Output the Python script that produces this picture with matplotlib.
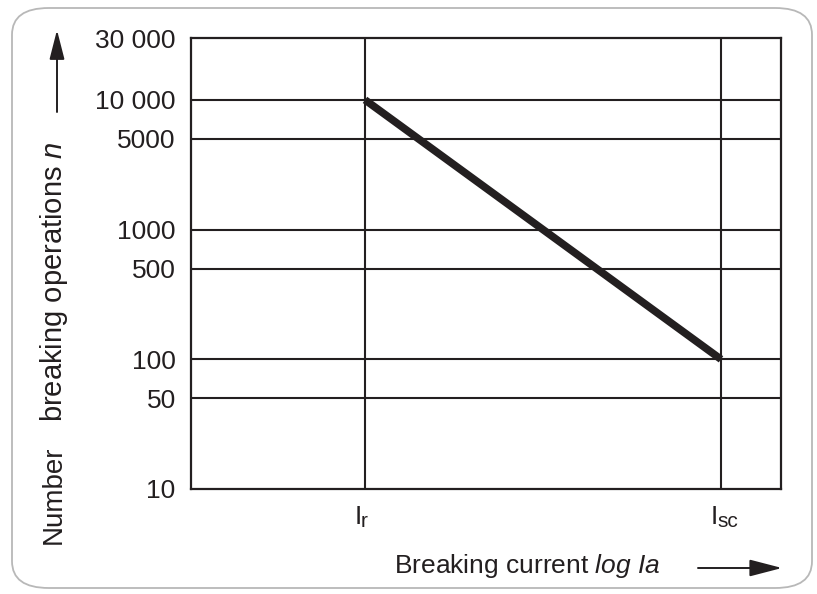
import matplotlib
matplotlib.use("Agg")
import matplotlib.pyplot as plt
from matplotlib.patches import FancyBboxPatch, FancyArrowPatch
from matplotlib.ticker import FixedLocator, NullLocator

plt.rcParams['font.family'] = ['Liberation Sans', 'DejaVu Sans']
plt.rcParams['mathtext.fontset'] = 'custom'
plt.rcParams['mathtext.rm'] = 'Liberation Sans'
plt.rcParams['mathtext.it'] = 'Liberation Sans:italic'

# Data
current_main = ["I", "I"]
current_sub = ["r", "sc"]
current_pos = [174, 530]          # position along log current axis
operations = [10000, 100]         # breaking operations n
y_ticks = [10, 50, 100, 500, 1000, 5000, 10000, 30000]
y_tick_labels = ["10", "50", "100", "500", "1000", "5000", "10 000", "30 000"]
y_grid = [50, 100, 500, 1000, 5000, 10000]

INK = "#231f20"
W, H = 817, 594
fig = plt.figure(figsize=(W / 100, H / 100), dpi=100)

# rounded border
border = FancyBboxPatch((12 / W, 6 / H), (812 - 12) / W, (586 - 6) / H,
                        boxstyle="round,pad=0,rounding_size=0.045",
                        transform=fig.transFigure, facecolor="none",
                        edgecolor="#b8b8b8", linewidth=1.3, zorder=-5)
fig.patches.append(border)

ax = fig.add_axes([191 / W, 1 - 489 / H, 590 / W, 451 / H])
ax.set_facecolor("none")
ax.set_yscale("log")
ax.set_ylim(10, 30000)
ax.set_xlim(0, 590)

for y in y_grid:
    ax.axhline(y, color=INK, linewidth=1.5, zorder=1)
for x in current_pos:
    ax.axvline(x, color=INK, linewidth=1.5, zorder=1)

ax.plot(current_pos, operations, color=INK, linewidth=5.5,
        solid_capstyle="butt", zorder=3)

ax.yaxis.set_major_locator(FixedLocator(y_ticks))
ax.yaxis.set_minor_locator(NullLocator())
ax.set_yticklabels(y_tick_labels)
ax.set_xticks(current_pos)
ax.set_xticklabels([""] * len(current_pos))
ax.tick_params(axis="y", length=0, pad=11, labelsize=19, labelcolor=INK)
ax.tick_params(axis="x", length=0)
for s in ax.spines.values():
    s.set_color(INK)
    s.set_linewidth(1.6)

# x tick labels: I with subscript
xt = ax.get_xaxis_transform()
for pos, main, sub in zip(current_pos, current_main, current_sub):
    ax.annotate(main, xy=(pos, 0), xycoords=xt, xytext=(-10, -35),
                textcoords="offset pixels", ha="left", va="baseline",
                fontsize=19, color=INK, annotation_clip=False)
    ax.annotate(sub, xy=(pos, 0), xycoords=xt, xytext=(-4, -38),
                textcoords="offset pixels", ha="left", va="baseline",
                fontsize=15, color=INK, annotation_clip=False)

# y-axis label with arrow
fig.text(54 / W, 1 - 495 / H, "Number", rotation=90, ha="center", va="center",
         fontsize=20, color=INK)
fig.text(54 / W, 1 - 282 / H, r"breaking operations $\mathit{n}$", rotation=90,
         ha="center", va="center", fontsize=21, color=INK)
fig.add_artist(FancyArrowPatch(
    (57 / W, 1 - 112 / H), (57 / W, 1 - 30 / H), transform=fig.transFigure,
    arrowstyle="-|>,head_length=18,head_width=4.6", color=INK, linewidth=1.4,
    shrinkA=0, shrinkB=0))

# x-axis label with arrow
fig.text(527 / W, 1 - 566 / H, r"Breaking current $\mathit{log\ Ia}$",
         ha="center", va="center", fontsize=19, color=INK)
fig.add_artist(FancyArrowPatch(
    (698 / W, 1 - 568 / H), (782 / W, 1 - 568 / H), transform=fig.transFigure,
    arrowstyle="-|>,head_length=20,head_width=5.2", color=INK, linewidth=1.4,
    shrinkA=0, shrinkB=0))

fig.savefig("out.png", dpi=100)
